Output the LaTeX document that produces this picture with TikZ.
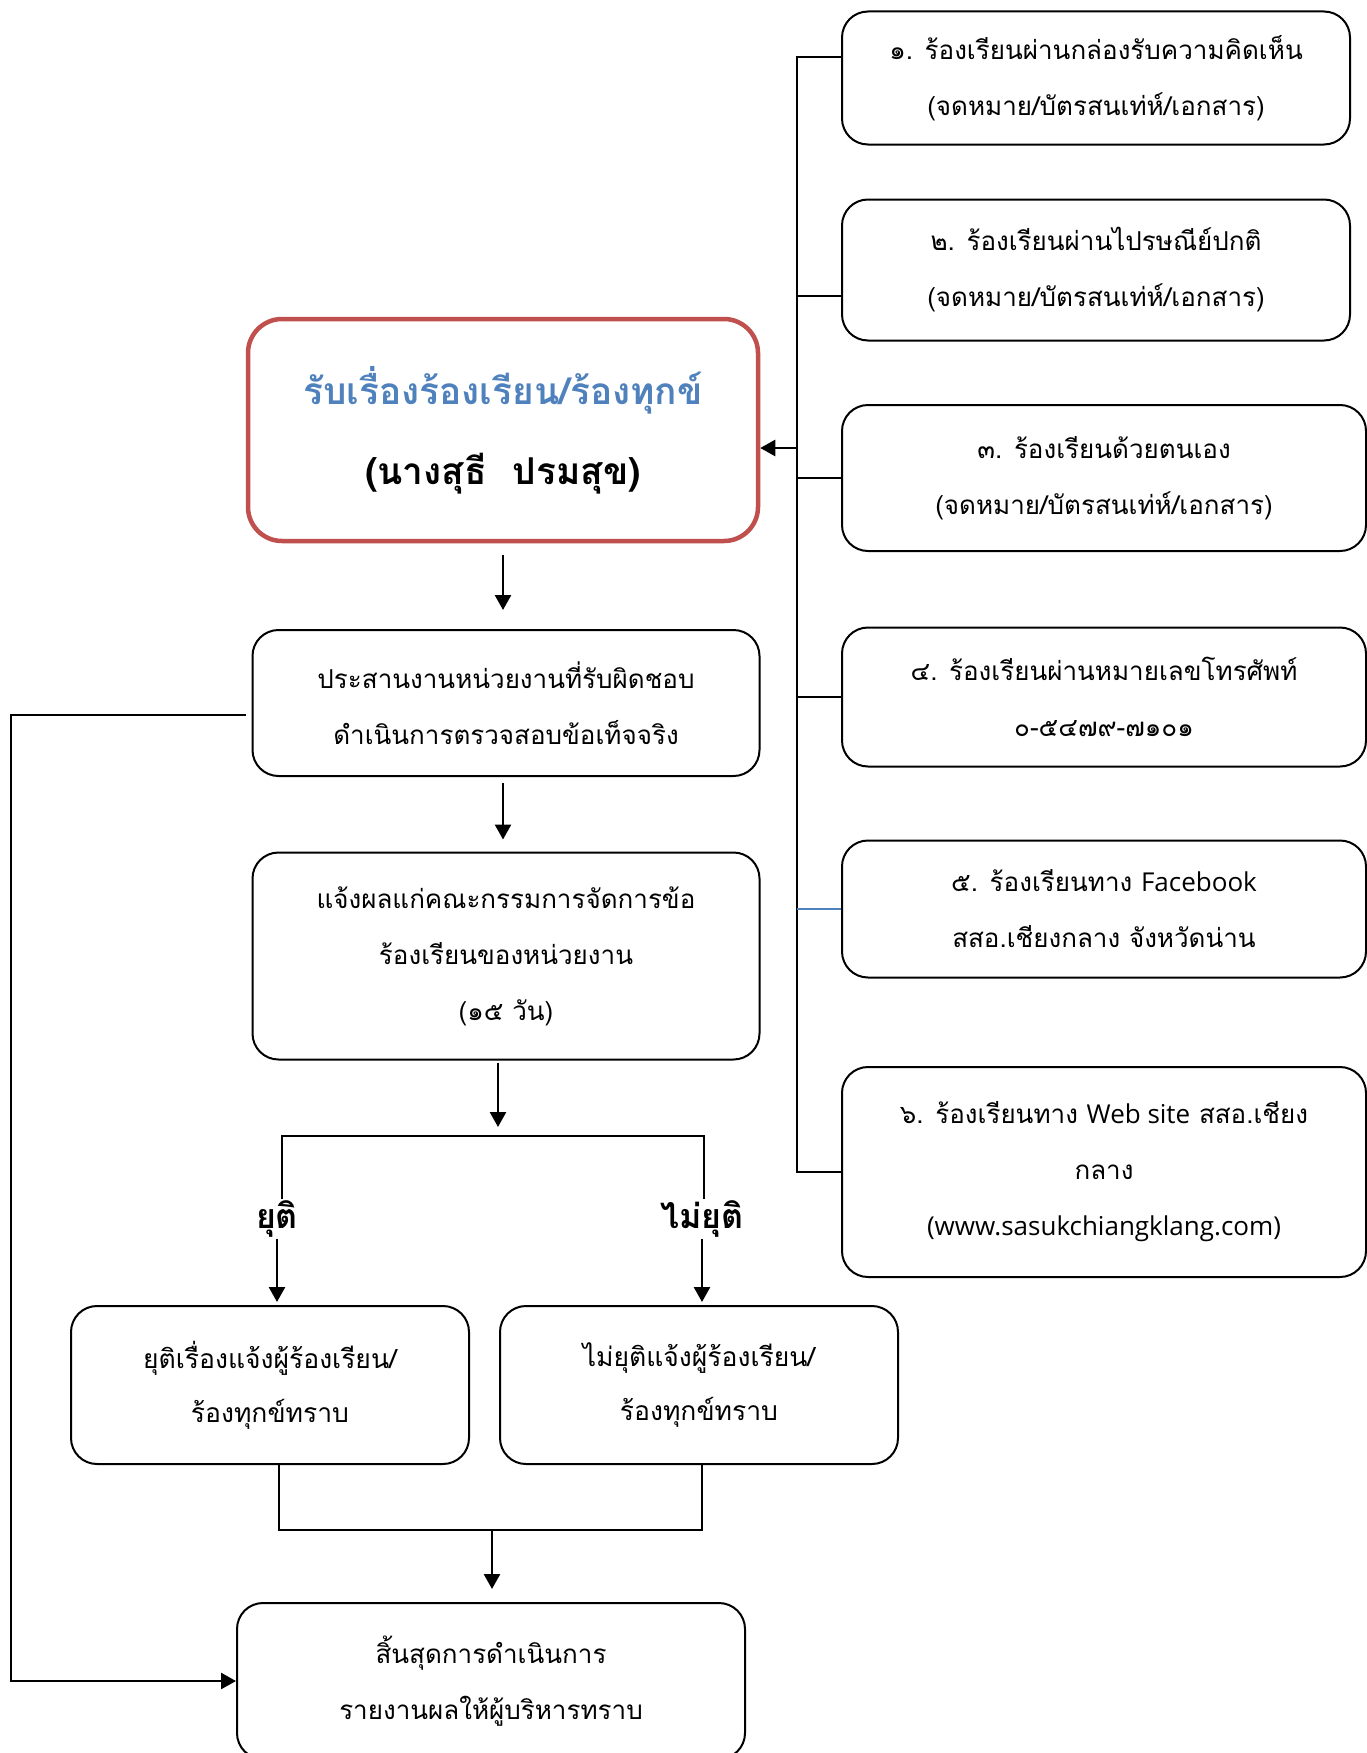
\documentclass[tikz,border=0pt]{standalone}
\usepackage{fontspec}
\setmainfont[Script=Thai]{Loma}
\newfontfamily\latfont{Open Sans}
\usetikzlibrary{shapes,arrows.meta}
\definecolor{mainred}{HTML}{C0504D}
\definecolor{titleblue}{HTML}{4F81BD}

\begin{document}
\begin{tikzpicture}[x=1pt,y=-1pt,
    block_source/.style ={rectangle, draw=black, line width=2pt, fill=white,
      rounded corners=26pt, minimum width=508pt, align=center, inner sep=0pt,
      font=\fontsize{26}{56}\selectfont},
    block_wide/.style ={block_source, minimum width=524pt},
    block_main/.style ={rectangle, draw=mainred, line width=4.5pt, fill=white,
      rounded corners=34pt, minimum width=510pt, minimum height=222pt,
      align=center, inner sep=0pt, font=\bfseries\fontsize{37}{80}\selectfont},
    block_step/.style ={block_source, minimum width=507pt},
    block_result/.style ={block_source, minimum width=398pt, minimum height=158pt,
      font=\fontsize{26.5}{54}\selectfont},
    block_label/.style ={rectangle, draw=none, inner sep=1pt,
      font=\bfseries\fontsize{34}{36}\selectfont},
    link/.style ={draw, line width=2pt},
    line/.style ={draw, line width=2.6pt, -{Triangle[length=15pt,width=16pt]}, shorten >=0pt}]
    \useasboundingbox (0,0) rectangle (1367,1753);
    % channels on the right
    \node [block_source, minimum height=133pt] (src1) at (1096,78)
      {๑. ร้องเรียนผ่านกล่องรับความคิดเห็น\\(จดหมาย/บัตรสนเท่ห์/เอกสาร)};
    \node [block_source, minimum height=141pt] (src2) at (1096,270)
      {๒. ร้องเรียนผ่านไปรษณีย์ปกติ\\(จดหมาย/บัตรสนเท่ห์/เอกสาร)};
    \node [block_wide, minimum height=146pt] (src3) at (1104,478)
      {๓. ร้องเรียนด้วยตนเอง\\(จดหมาย/บัตรสนเท่ห์/เอกสาร)};
    \node [block_wide, minimum height=139pt] (src4) at (1104,697)
      {๔. ร้องเรียนผ่านหมายเลขโทรศัพท์\\๐-๕๔๗๙-๗๑๐๑};
    \node [block_wide, minimum height=137pt] (src5) at (1104,909)
      {๕. ร้องเรียนทาง {\latfont Facebook}\\สสอ.เชียงกลาง จังหวัดน่าน};
    \node [block_wide, minimum height=210pt] (src6) at (1104,1172)
      {๖. ร้องเรียนทาง {\latfont Web site} สสอ.เชียง\\กลาง\\{\latfont (www.sasukchiangklang.com)}};
    % main column
    \node [block_main] (receive) at (503,430)
      {{\color{titleblue}รับเรื่องร้องเรียน/ร้องทุกข์}\\(นางสุธี\hspace{0.7em}ปรมสุข)};
    \node [block_step, minimum height=146pt] (coordn) at (506,703)
      {ประสานงานหน่วยงานที่รับผิดชอบ\\ดำเนินการตรวจสอบข้อเท็จจริง};
    \node [block_step, minimum height=207pt] (notify) at (506,956)
      {แจ้งผลแก่คณะกรรมการจัดการข้อ\\ร้องเรียนของหน่วยงาน\\(๑๕ วัน)};
    \node [block_label] (lbl_end) at (277,1219) {ยุติ};
    \node [block_label] (lbl_notend) at (702,1219) {ไม่ยุติ};
    \node [block_result] (endcase) at (270,1385)
      {ยุติเรื่องแจ้งผู้ร้องเรียน/\\ร้องทุกข์ทราบ};
    \node [block_result] (notend) at (699,1385)
      {ไม่ยุติแจ้งผู้ร้องเรียน/\\ร้องทุกข์ทราบ};
    \node [block_step, minimum width=508pt, minimum height=156pt] (finish) at (491,1681)
      {สิ้นสุดการดำเนินการ\\รายงานผลให้ผู้บริหารทราบ};
    % helper points
    \coordinate (bus) at (797,0);
    \coordinate (back) at (11,0);
    \coordinate (in_pt) at ([yshift=-18pt]receive.east);
    \coordinate (fb_pt) at ([yshift=-12pt]coordn.west);
    \coordinate (split) at (498,1136);
    \coordinate (split_l) at (282,1136);
    \coordinate (split_r) at (704,1136);
    \coordinate (merge) at (492,1530);
    \coordinate (merge_l) at (279,1530);
    \coordinate (merge_r) at (702,1530);
    % connecting nodes with paths
    \begin{scope}[every path/.style=link]
      \path ([yshift=21pt]src1.west) -| (bus |- src6.west) -- (src6.west);
      \path ([yshift=-26pt]src2.west) -- ++(-45,0);
      \path (src3.west) -- (src3.west -| bus);
      \path (src4.west) -- (src4.west -| bus);
      \path[draw=titleblue, line width=1.3pt] (src5.west) -- (src5.west -| bus);
      \path (split_l |- lbl_end.north) -- (split_l) -- (split_r) -- (split_r |- lbl_notend.north);
      \path (merge_l |- endcase.south) -- (merge_l) -- (merge_r) -- (merge_r |- notend.south);
    \end{scope}
    \begin{scope}[every path/.style=line]
      \path (in_pt -| bus) -- (in_pt);
      \path[shorten <=12pt, shorten >=19pt] (receive.south) -- (receive.south |- coordn.north);
      \path[shorten <=6pt, shorten >=12pt] (coordn.south -| receive) -- (receive |- notify.north);
      \path[shorten <=2pt, shorten >=9pt] (notify.south -| split) -- (split);
      \path[shorten >=3pt] (lbl_end.south) -- (lbl_end.south |- endcase.north);
      \path[shorten >=3pt] (lbl_notend.south) -- (lbl_notend.south |- notend.north);
      \path[shorten >=13pt] (merge) -- (merge |- finish.north);
      \path[shorten <=6pt] (fb_pt) -- (fb_pt -| back) |- (finish.west);
    \end{scope}
  \end{tikzpicture}
\end{document}
